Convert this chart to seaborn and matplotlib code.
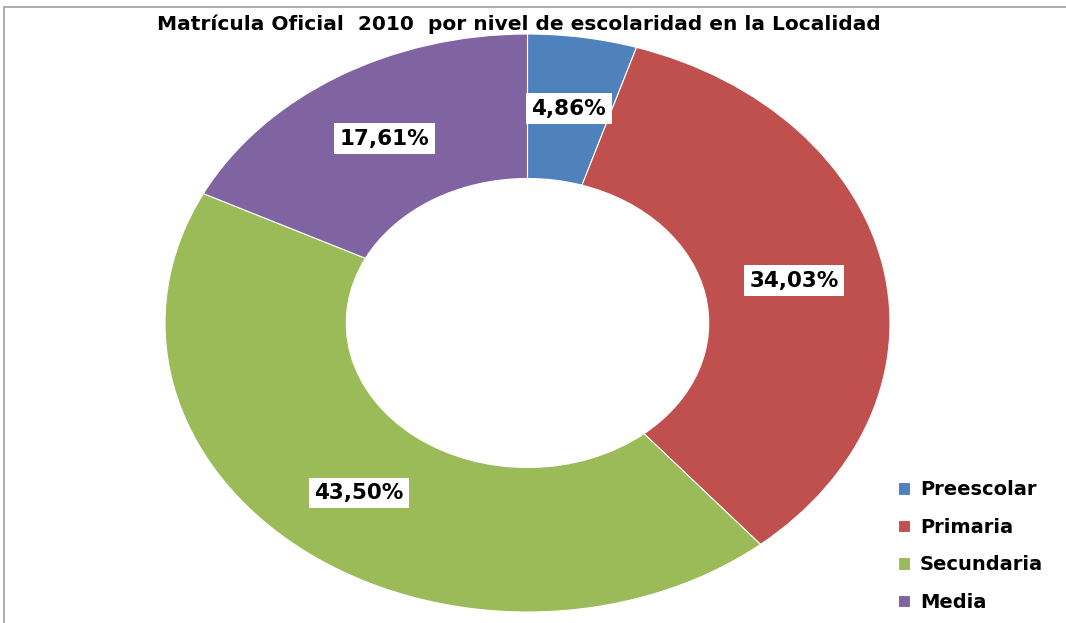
import matplotlib
matplotlib.use("Agg")
import matplotlib.pyplot as plt
import seaborn as sns
import numpy as np
from matplotlib.patches import Rectangle

niveles = ["Preescolar", "Primaria", "Secundaria", "Media"]
porcentajes = [4.86, 34.03, 43.50, 17.61]
etiquetas = ["4,86%", "34,03%", "43,50%", "17,61%"]
titulo = "Matrícula Oficial  2010  por nivel de escolaridad en la Localidad"

sns.set_theme(style="white")
plt.rcParams['font.family'] = ['DejaVu Sans']

colores = sns.color_palette(["#4F81BD", "#C0504D", "#9BBB59", "#8064A2"])

fig = plt.figure(figsize=(10.66, 6.23), dpi=100)
fig.patch.set_facecolor("white")

# gray chart frame, cut off on right and bottom
fig.patches.append(Rectangle((4 / 1066, -0.1), 1.2, 1 - 7 / 623 + 0.1,
                             transform=fig.transFigure, fill=False,
                             edgecolor="#a0a0a0", linewidth=1.2))

ax = fig.add_axes([165 / 1066, 11 / 623, 725 / 1066, 578 / 623])
wedges, texts = ax.pie(porcentajes, colors=colores, startangle=90, counterclock=False,
                       radius=1.0, wedgeprops=dict(width=0.5, edgecolor="white", linewidth=0.8))
ax.set_aspect("auto")
ax.set_xlim(-1, 1)
ax.set_ylim(-1, 1)

# labels in the middle of the ring
angulo = 90.0
for p, txt in zip(porcentajes, etiquetas):
    medio = np.deg2rad(angulo - p * 3.6 / 2)
    angulo -= p * 3.6
    ax.text(0.75 * np.cos(medio), 0.75 * np.sin(medio), txt, ha="center", va="center",
            fontsize=15.5, fontweight="bold", color="black",
            bbox=dict(boxstyle="square,pad=0.25", facecolor="white", edgecolor="none"))

fig.text(519 / 1066, 1 - 24 / 623, titulo, ha="center", va="center",
         fontsize=14.5, fontweight="bold", color="black")

fig.legend(wedges, niveles, loc="center left", bbox_to_anchor=(898 / 1066, 1 - 546 / 623),
           frameon=False, handlelength=0.62, handleheight=0.62,
           handletextpad=0.5, labelspacing=0.95, borderpad=0, borderaxespad=0,
           labelcolor="black",
           prop=dict(family='DejaVu Sans', weight="bold", size=14))

fig.savefig("out.png", dpi=100)
